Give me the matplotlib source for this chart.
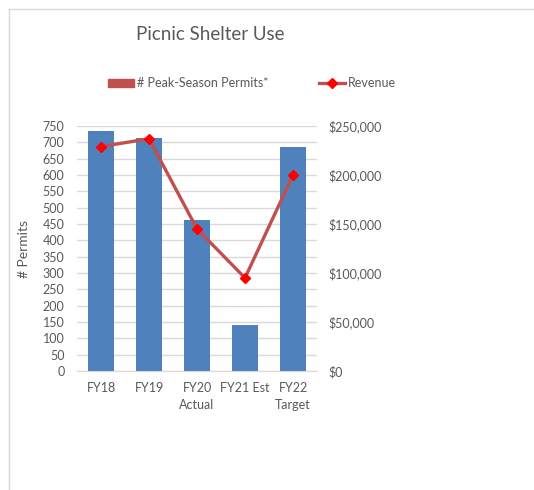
import matplotlib.pyplot as plt
from matplotlib.lines import Line2D
from matplotlib.patches import Patch
from matplotlib.ticker import FuncFormatter, MultipleLocator

plt.rcParams['font.family'] = ['Lato', 'DejaVu Sans']

years = ['FY18', 'FY19', 'FY20\nActual', 'FY21 Est', 'FY22\nTarget']
permits = [735, 713, 462, 141, 686]
revenue = [229000, 237000, 145000, 95000, 200000]

BAR = '#4F81BD'
LINE = '#C0504D'
TXT = '#595959'
GRID = '#D9D9D9'

fig = plt.figure(figsize=(5.34, 4.9), dpi=100)
ax = fig.add_axes([77 / 534, 1 - 371 / 490, 240 / 534, 245 / 490])

x = range(len(years))
ax.bar(x, permits, width=0.56, color=BAR, zorder=2)
ax.set_xlim(-0.5, len(years) - 0.5)
ax.set_ylim(0, 750)
ax.yaxis.set_major_locator(MultipleLocator(50))
ax.grid(axis='y', color=GRID, linewidth=1, zorder=0)
ax.set_xticks(list(x))
ax.set_xticklabels(years, linespacing=1.45)
ax.tick_params(axis='both', length=0, labelsize=9, colors=TXT)
ax.tick_params(axis='x', pad=8)
ax.tick_params(axis='y', pad=9)
for side in ['top', 'right', 'left']:
    ax.spines[side].set_visible(False)
ax.spines['bottom'].set_color(GRID)
ax.set_ylabel('# Permits', fontsize=10, color=TXT, labelpad=9)

ax2 = ax.twinx()
ax2.plot(x, revenue, color=LINE, linewidth=2.4, marker='D', markersize=5.5,
         markerfacecolor='#FF0000', markeredgecolor='#FF0000', zorder=3)
ax2.set_ylim(0, 250000)
ax2.yaxis.set_major_locator(MultipleLocator(50000))
ax2.yaxis.set_major_formatter(FuncFormatter(lambda v, p: '${:,.0f}'.format(v)))
ax2.tick_params(axis='y', length=0, labelsize=9, colors=TXT, pad=8)
for side in ['top', 'right', 'left', 'bottom']:
    ax2.spines[side].set_visible(False)

fig.text(210 / 534, 1 - 35 / 490, 'Picnic Shelter Use', ha='center', va='center',
         fontsize=13.5, color=TXT)

handles = [Patch(color=LINE),
           Line2D([0], [0], color=LINE, linewidth=2.4, marker='D', markersize=5,
                  markerfacecolor='#FF0000', markeredgecolor='#FF0000')]
fig.legend(handles, ['# Peak-Season Permits*', 'Revenue'], loc='center',
           bbox_to_anchor=(252 / 534, 1 - 83 / 490), ncol=2, frameon=False,
           fontsize=9, labelcolor=TXT, handlelength=2.1, handleheight=0.6,
           handletextpad=0.25, columnspacing=4.0)

# light frame around the chart area
fig.add_artist(Line2D([9 / 534, 9 / 534], [0, 1 - 9 / 490], color=GRID, linewidth=1))
fig.add_artist(Line2D([9 / 534, 1], [1 - 9 / 490, 1 - 9 / 490], color=GRID, linewidth=1))

fig.savefig('out.png', dpi=100)
